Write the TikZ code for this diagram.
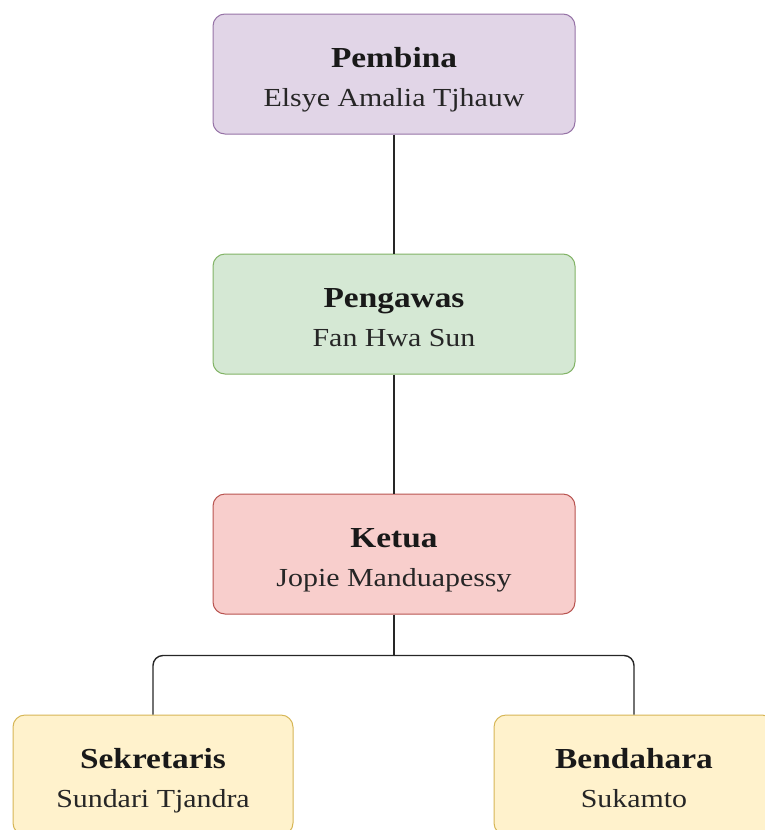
\documentclass[tikz,border=0pt]{standalone}
\usepackage{fontspec}
\setmainfont{Liberation Serif}[FakeStretch=1.15]
\definecolor{pembinafill}{HTML}{E1D5E7}
\definecolor{pembinaline}{HTML}{9673A6}
\definecolor{pengawasfill}{HTML}{D5E8D4}
\definecolor{pengawasline}{HTML}{82B366}
\definecolor{ketuafill}{HTML}{F8CECC}
\definecolor{ketualine}{HTML}{B85450}
\definecolor{stafffill}{HTML}{FFF2CC}
\definecolor{staffline}{HTML}{D6B656}

\begin{document}
\begin{tikzpicture}[x=1pt,y=1pt,
	box/.style={draw, rounded corners=12pt, line width=1pt, minimum width=362pt, minimum height=120pt, inner sep=0pt},
	staffbox/.style={box, minimum width=280pt, fill=stafffill, draw=staffline},
	jabatan/.style={anchor=base, inner sep=0pt, text=black!90, font=\fontsize{29}{31}\selectfont\bfseries},
	nama/.style={anchor=base, inner sep=0pt, text=black!85, font=\fontsize{26}{28}\selectfont},
	link/.style={line width=1.4pt, black!85}]
	\useasboundingbox (0,0) rectangle (765,-830);
	\clip (0,0) rectangle (765,-830);

	%BOXES
	\node[box, fill=pembinafill, draw=pembinaline] (pembina) at (394,-74) {};
	\node[box, fill=pengawasfill, draw=pengawasline] (pengawas) at (394,-314) {};
	\node[box, fill=ketuafill, draw=ketualine] (ketua) at (394,-554) {};
	\node[staffbox] (sekretaris) at (153,-775) {};
	\node[staffbox] (bendahara) at (634,-775) {};

	%LABELS
	\foreach \b/\j/\n in {pembina/Pembina/Elsye Amalia Tjhauw,
		pengawas/Pengawas/Fan Hwa Sun,
		ketua/Ketua/Jopie Manduapessy,
		sekretaris/Sekretaris/Sundari Tjandra,
		bendahara/Bendahara/Sukamto}{
		\node[jabatan] (\b-j) at ([yshift=7pt]\b.center) {\j};
		\node[nama] (\b-n) at ([yshift=-32pt]\b.center) {\n};
	}

	%LINES
	\draw[link] (pembina)--(pengawas);
	\draw[link] (pengawas)--(ketua);
	\coordinate (split) at ([yshift=-41pt]ketua.south);
	\draw[link] (ketua)--(split);		%down to the branch
	\draw[link, rounded corners=10pt] (split) -| (sekretaris);
	\draw[link, rounded corners=10pt] (split) -| (bendahara);
\end{tikzpicture}
\end{document}
